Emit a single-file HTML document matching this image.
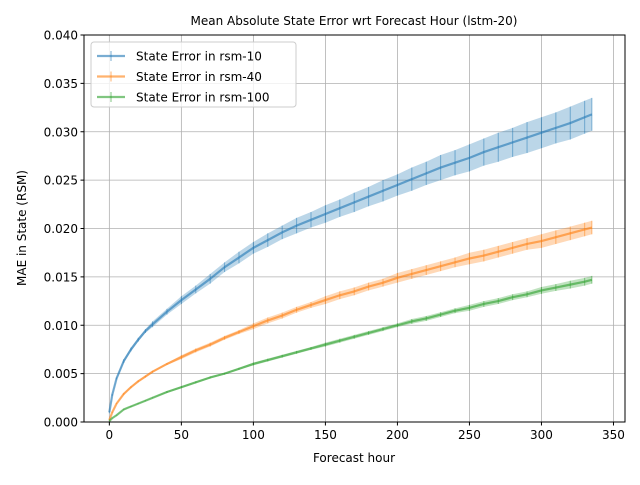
<!DOCTYPE html>
<html><head><meta charset="utf-8"><style>
body{margin:0;background:#fff;font-family:"Liberation Sans","DejaVu Sans",sans-serif}
svg text{font-family:"DejaVu Sans","Liberation Sans",sans-serif}
</style></head><body>
<svg id="chart" width="640" height="480" xmlns="http://www.w3.org/2000/svg">
<rect width="640" height="480" fill="#fff"/>
<g id="grid"></g>
<g id="plot"></g>
<rect x="84" y="35" width="541" height="387" fill="none" stroke="#000" stroke-width="1"/>
<g id="axes"></g>
<text x="354" y="25" font-size="12" text-anchor="middle">Mean Absolute State Error wrt Forecast Hour (lstm-20)</text>
<text x="354" y="462" font-size="12" text-anchor="middle">Forecast hour</text>
<text x="26" y="228" font-size="12" text-anchor="middle" transform="rotate(-90 26 228)">MAE in State (RSM)</text>
<g id="legend"></g>
</svg>
<script>
const hours=[0,2,5,10,15,20,25,30,40,50,60,70,80,90,100,110,120,130,140,150,160,170,180,190,200,210,220,230,240,250,260,270,280,290,300,310,320,330,335];
const blue=[0.001,0.0028,0.0045,0.0063,0.0075,0.0085,0.0094,0.0101,0.0114,0.0126,0.0137,0.0148,0.0160,0.0170,0.0180,0.0188,0.0196,0.0203,0.0209,0.0215,0.0221,0.0227,0.0233,0.0239,0.0245,0.0251,0.0257,0.0263,0.0268,0.0273,0.0279,0.0284,0.0289,0.0294,0.0299,0.0304,0.0309,0.0315,0.0318];
const blueErr=[0.0001,0.0001,0.0001,0.0002,0.0002,0.0002,0.0002,0.0003,0.0003,0.0004,0.0004,0.0005,0.0005,0.0006,0.0006,0.0007,0.0007,0.0008,0.0008,0.0009,0.0009,0.0010,0.0010,0.0011,0.0011,0.0012,0.0012,0.0013,0.0013,0.0014,0.0014,0.0015,0.0015,0.0016,0.0016,0.0016,0.0017,0.0017,0.0017];
const orange=[0.0002,0.0010,0.0019,0.0029,0.0036,0.0042,0.0047,0.0052,0.0060,0.0067,0.0074,0.0080,0.0087,0.0093,0.0099,0.0105,0.0110,0.0116,0.0121,0.0126,0.0131,0.0135,0.0140,0.0144,0.0149,0.0153,0.0157,0.0161,0.0165,0.0169,0.0172,0.0176,0.0180,0.0184,0.0187,0.0191,0.0195,0.0199,0.0201];
const orangeErr=[0.00005,0.00005,0.00005,0.0001,0.0001,0.0001,0.0001,0.0001,0.0001,0.0002,0.0002,0.0002,0.0002,0.0002,0.0003,0.0003,0.0003,0.0003,0.0003,0.0004,0.0004,0.0004,0.0004,0.0004,0.0005,0.0005,0.0005,0.0005,0.0005,0.0006,0.0006,0.0006,0.0006,0.0006,0.0007,0.0007,0.0007,0.0007,0.0007];
const green=[0.0001,0.0004,0.0007,0.0013,0.0016,0.0019,0.0022,0.0025,0.0031,0.0036,0.0041,0.0046,0.0050,0.0055,0.0060,0.0064,0.0068,0.0072,0.0076,0.0080,0.0084,0.0088,0.0092,0.0096,0.0100,0.0104,0.0107,0.0111,0.0115,0.0118,0.0122,0.0125,0.0129,0.0132,0.0136,0.0139,0.0142,0.0145,0.0147];
const greenErr=[0.00003,0.00003,0.00003,0.00005,0.00005,0.00005,0.00005,0.00005,0.0001,0.0001,0.0001,0.0001,0.0001,0.0001,0.00015,0.00015,0.00015,0.00015,0.00015,0.0002,0.0002,0.0002,0.0002,0.0002,0.0002,0.00025,0.00025,0.00025,0.00025,0.0003,0.0003,0.0003,0.0003,0.0003,0.00035,0.00035,0.0004,0.0004,0.0004];
const xTicks=[0,50,100,150,200,250,300,350];
const yTicks=[0,0.005,0.01,0.015,0.02,0.025,0.03,0.035,0.04];
const yLabels=["0.000","0.005","0.010","0.015","0.020","0.025","0.030","0.035","0.040"];
const seriesNames=["State Error in rsm-10","State Error in rsm-40","State Error in rsm-100"];

const NS="http://www.w3.org/2000/svg";
const X0=84,X1=625,Y0=422,Y1=35,XMIN=-17.6,XMAX=358,YMIN=0,YMAX=0.04;
const sx=v=>X0+(v-XMIN)/(XMAX-XMIN)*(X1-X0);
const sy=v=>Y0-(v-YMIN)/(YMAX-YMIN)*(Y0-Y1);
function mk(tag,attrs,parent){const e=document.createElementNS(NS,tag);for(const k in attrs)e.setAttribute(k,attrs[k]);parent.appendChild(e);return e;}
const grid=document.getElementById('grid'),axes=document.getElementById('axes'),plot=document.getElementById('plot'),legend=document.getElementById('legend');
xTicks.forEach(t=>{const x=sx(t);
 const g=mk('line',{x1:x,x2:x,y1:Y1,y2:Y0,stroke:'#b0b0b0','stroke-width':0.8},grid);
 
 
 const tk=mk('line',{x1:x,x2:x,y1:Y0,y2:Y0+3.5,stroke:'#000'},axes);
 
 
 const tx=mk('text',{x:x,y:Y0+17,'font-size':12,'text-anchor':'middle'},axes);tx.textContent=t;
 
 
});
yTicks.forEach((t,i)=>{const y=sy(t);
 const g=mk('line',{x1:X0,x2:X1,y1:y,y2:y,stroke:'#b0b0b0','stroke-width':0.8},grid);
 
 
 const tk=mk('line',{x1:X0-3.5,x2:X0,y1:y,y2:y,stroke:'#000'},axes);
 
 
 const tx=mk('text',{x:X0-6,y:y+4.5,'font-size':12,'text-anchor':'end'},axes);tx.textContent=yLabels[i];
 
 
});
const series=[[blue,blueErr,'#1f77b4'],[orange,orangeErr,'#ff7f0e'],[green,greenErr,'#2ca02c']];
series.forEach(([vals,err,col],si)=>{
 const g=mk('g',{},plot);
 
 
 let top=hours.map((h,i)=>sx(h)+','+sy(vals[i]+err[i])).join(' ');
 let bot=hours.map((h,i)=>sx(h)+','+sy(vals[i]-err[i])).reverse().join(' ');
 const band=mk('polygon',{points:top+' '+bot,fill:col,'fill-opacity':0.3},g);
 
 
 hours.forEach((h,i)=>{
  const eb=mk('line',{x1:sx(h),x2:sx(h),y1:sy(vals[i]-err[i]),y2:sy(vals[i]+err[i]),stroke:col,'stroke-opacity':0.5,'stroke-width':1},g);
  
  
 });
 const ln=mk('polyline',{points:hours.map((h,i)=>sx(h)+','+sy(vals[i])).join(' '),fill:'none',stroke:col,'stroke-opacity':0.6,'stroke-width':2.2,'stroke-linejoin':'round'},g);
 
 
});
const lb=mk('rect',{x:91,y:42,width:205,height:65,rx:3,fill:'#fff','fill-opacity':0.8,stroke:'#ccc'},legend);


series.forEach(([v,e,col],i)=>{const y=56+i*20.5;
 const g=mk('g',{},legend);
 
 
 mk('line',{x1:97,x2:125,y1:y,y2:y,stroke:col,'stroke-opacity':0.6,'stroke-width':2.2},g);
 mk('line',{x1:111,x2:111,y1:y-5,y2:y+5,stroke:col,'stroke-opacity':0.6},g);
 const t=mk('text',{x:136,y:y+4.5,'font-size':12},g);t.textContent=seriesNames[i];
});
</script>
</body></html>
